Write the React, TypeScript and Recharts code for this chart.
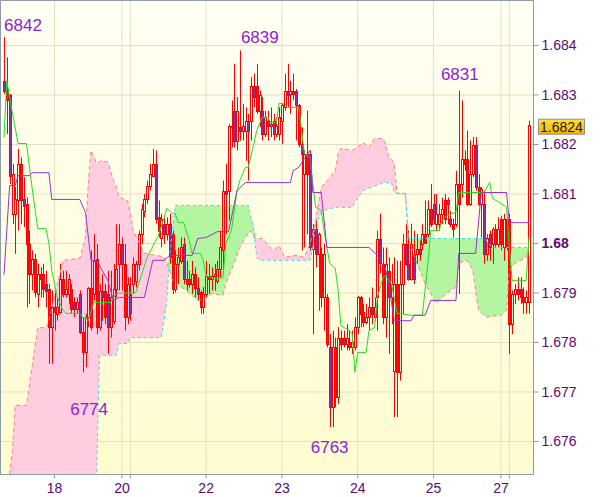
import {
  ComposedChart,
  Bar,
  Line,
  Area,
  XAxis,
  YAxis,
  CartesianGrid,
  ReferenceDot,
} from 'recharts';

// prices are in points: 6824 means 1.6824
// [open, high, low, close] per bar
const ohlcBars: [number, number, number, number][] = [
  [6832.9, 6841.7, 6830.2, 6830.9], [6831.2, 6837.6, 6822.1, 6828.9], [6829.9, 6830.2, 6812.0, 6813.7],
  [6806.0, 6816.1, 6803.9, 6814.0], [6806.0, 6811.4, 6797.9, 6809.0], [6808.7, 6819.1, 6802.6, 6816.1],
  [6816.1, 6817.4, 6803.9, 6808.7], [6809.0, 6813.4, 6803.3, 6807.6], [6808.0, 6809.3, 6787.1, 6799.9],
  [6799.9, 6802.6, 6787.8, 6793.8], [6793.8, 6798.6, 6790.5, 6796.9], [6796.9, 6797.9, 6789.1, 6790.1],
  [6789.8, 6795.9, 6787.1, 6793.8], [6793.8, 6795.2, 6789.1, 6792.8], [6793.8, 6795.9, 6789.1, 6790.8],
  [6791.8, 6794.5, 6787.1, 6790.5], [6790.8, 6791.8, 6775.7, 6783.1], [6783.1, 6790.5, 6775.7, 6787.1],
  [6787.1, 6790.5, 6782.4, 6786.1], [6785.8, 6789.1, 6784.4, 6787.1], [6786.1, 6795.9, 6785.8, 6792.8],
  [6792.8, 6794.5, 6789.1, 6789.8], [6789.8, 6794.5, 6789.1, 6790.8], [6789.8, 6793.8, 6787.8, 6792.8],
  [6790.8, 6791.8, 6785.8, 6786.8], [6788.1, 6789.1, 6785.1, 6786.8], [6786.8, 6789.1, 6785.8, 6788.1],
  [6789.8, 6790.5, 6781.7, 6782.1], [6782.1, 6785.1, 6774.0, 6778.0], [6778.0, 6785.8, 6775.0, 6785.1],
  [6785.1, 6791.2, 6783.1, 6791.1], [6791.1, 6798.6, 6782.4, 6783.1], [6789.8, 6801.9, 6788.5, 6796.5],
  [6796.9, 6799.9, 6781.7, 6783.1], [6783.1, 6791.8, 6782.4, 6790.5], [6790.5, 6793.8, 6784.4, 6789.1],
  [6790.5, 6791.8, 6783.7, 6785.1], [6789.8, 6794.5, 6777.7, 6783.1], [6783.1, 6794.5, 6781.0, 6789.1],
  [6784.4, 6795.9, 6783.7, 6790.8], [6790.8, 6803.9, 6789.1, 6794.9], [6795.9, 6803.9, 6790.5, 6799.9],
  [6799.9, 6801.2, 6790.5, 6795.9], [6795.9, 6799.9, 6782.4, 6785.1], [6785.1, 6793.2, 6783.7, 6791.8],
  [6789.8, 6793.2, 6784.4, 6786.0], [6791.8, 6797.2, 6789.8, 6795.9], [6792.5, 6796.5, 6791.1, 6795.9],
  [6795.9, 6802.6, 6794.5, 6801.9], [6801.9, 6808.0, 6799.9, 6807.0], [6806.6, 6810.0, 6805.3, 6809.0],
  [6809.0, 6812.7, 6808.0, 6811.7], [6811.7, 6816.1, 6810.7, 6814.0], [6813.7, 6819.1, 6813.4, 6816.1],
  [6816.1, 6818.8, 6804.0, 6805.0], [6805.3, 6808.7, 6801.2, 6802.6], [6801.2, 6806.0, 6799.2, 6805.0],
  [6803.9, 6805.3, 6799.9, 6801.9], [6801.9, 6805.3, 6800.6, 6803.9], [6803.9, 6806.0, 6795.9, 6797.2],
  [6801.9, 6802.6, 6789.8, 6790.8], [6790.8, 6798.6, 6790.1, 6795.9], [6795.9, 6799.2, 6791.8, 6797.2],
  [6796.5, 6801.2, 6795.9, 6799.2], [6799.9, 6801.2, 6791.8, 6792.8], [6792.8, 6796.5, 6790.5, 6791.8],
  [6792.8, 6794.5, 6791.1, 6791.8], [6791.8, 6796.5, 6789.8, 6793.8], [6793.8, 6795.2, 6789.1, 6791.1],
  [6791.1, 6793.2, 6788.5, 6789.8], [6790.1, 6790.5, 6785.8, 6787.1], [6787.1, 6791.2, 6785.8, 6789.8],
  [6789.8, 6796.5, 6789.1, 6793.5], [6793.5, 6795.9, 6789.8, 6792.8], [6792.8, 6795.2, 6790.5, 6793.5],
  [6793.5, 6795.9, 6790.5, 6793.8], [6792.5, 6796.5, 6791.8, 6794.9], [6794.9, 6802.6, 6793.2, 6799.2],
  [6798.6, 6812.7, 6794.5, 6810.7], [6810.7, 6816.1, 6801.9, 6810.0], [6810.7, 6824.1, 6804.6, 6823.8],
  [6823.8, 6828.9, 6819.4, 6823.5], [6826.8, 6836.3, 6819.4, 6820.8], [6820.8, 6829.6, 6818.8, 6826.8],
  [6823.5, 6839.0, 6820.8, 6822.8], [6822.8, 6828.2, 6820.8, 6823.8], [6822.8, 6827.5, 6816.7, 6824.8],
  [6824.8, 6826.2, 6812.7, 6822.8], [6824.8, 6833.6, 6820.8, 6831.9], [6831.9, 6834.3, 6827.5, 6829.6],
  [6831.9, 6836.3, 6826.2, 6826.8], [6826.8, 6830.9, 6823.5, 6829.9], [6826.8, 6829.6, 6820.8, 6822.1],
  [6822.1, 6826.8, 6821.5, 6825.5], [6824.8, 6826.8, 6820.8, 6823.8], [6823.8, 6827.5, 6821.5, 6824.1],
  [6824.8, 6826.2, 6820.8, 6822.1], [6822.1, 6825.5, 6821.5, 6823.8], [6822.1, 6827.5, 6820.8, 6825.5],
  [6824.8, 6828.2, 6820.1, 6827.9], [6827.5, 6834.3, 6826.8, 6830.9], [6830.9, 6836.3, 6827.5, 6830.0],
  [6830.2, 6832.9, 6826.2, 6830.9], [6830.9, 6834.3, 6828.9, 6830.2], [6830.9, 6831.2, 6820.8, 6827.9],
  [6827.9, 6828.2, 6819.4, 6820.1], [6820.1, 6823.5, 6798.6, 6818.1], [6814.0, 6818.8, 6799.2, 6818.1],
  [6818.1, 6826.8, 6801.9, 6814.0], [6818.1, 6818.8, 6798.6, 6799.2], [6798.9, 6803.9, 6781.7, 6802.9],
  [6802.9, 6804.6, 6795.2, 6797.9], [6797.9, 6802.2, 6786.4, 6801.9], [6797.9, 6799.2, 6787.1, 6789.1],
  [6789.1, 6799.9, 6782.4, 6797.9], [6789.1, 6789.8, 6779.0, 6779.7], [6779.0, 6781.7, 6762.9, 6766.9],
  [6766.9, 6782.4, 6762.9, 6779.0], [6779.0, 6781.0, 6766.9, 6768.9], [6768.9, 6783.1, 6767.6, 6781.0],
  [6781.0, 6782.4, 6778.4, 6779.7], [6781.0, 6782.4, 6779.0, 6779.7], [6779.7, 6783.7, 6778.4, 6781.0],
  [6780.0, 6782.4, 6778.4, 6779.0], [6779.0, 6782.4, 6777.7, 6780.0], [6779.0, 6785.1, 6778.4, 6783.1],
  [6783.1, 6789.4, 6781.7, 6789.1], [6789.1, 6789.4, 6783.1, 6785.8], [6786.1, 6787.8, 6783.1, 6784.1],
  [6784.1, 6787.8, 6783.7, 6785.1], [6785.1, 6789.1, 6782.4, 6787.1], [6787.1, 6791.1, 6783.7, 6785.8],
  [6785.1, 6789.1, 6784.4, 6787.1], [6789.1, 6802.6, 6782.4, 6800.9], [6800.9, 6806.0, 6794.0, 6796.0],
  [6795.9, 6799.2, 6783.7, 6785.1], [6785.1, 6799.2, 6781.0, 6795.9], [6794.5, 6797.2, 6777.7, 6789.1],
  [6789.1, 6795.9, 6783.7, 6791.8], [6774.3, 6797.2, 6764.9, 6791.8], [6791.8, 6796.5, 6764.9, 6774.0],
  [6774.0, 6796.5, 6772.3, 6791.8], [6791.8, 6801.9, 6785.8, 6799.9], [6799.9, 6804.0, 6795.5, 6795.9],
  [6795.9, 6802.6, 6792.5, 6792.8], [6792.8, 6804.0, 6792.5, 6799.9], [6797.9, 6802.6, 6791.8, 6792.8],
  [6797.9, 6801.9, 6795.9, 6798.9], [6798.9, 6800.6, 6796.5, 6797.9], [6799.9, 6803.9, 6798.6, 6801.9],
  [6801.9, 6808.7, 6799.9, 6800.0], [6801.9, 6808.7, 6801.2, 6807.0], [6807.0, 6812.0, 6803.3, 6804.0],
  [6808.0, 6810.0, 6803.9, 6805.0], [6804.0, 6810.0, 6802.6, 6806.0], [6804.0, 6808.0, 6802.6, 6806.0],
  [6806.0, 6809.3, 6803.9, 6807.0], [6808.7, 6810.0, 6803.9, 6805.0], [6808.7, 6809.3, 6803.9, 6808.0],
  [6805.0, 6806.6, 6803.3, 6804.0], [6804.0, 6805.0, 6801.2, 6803.0], [6804.0, 6814.7, 6803.3, 6812.0],
  [6812.0, 6830.9, 6789.8, 6808.0], [6812.0, 6828.9, 6809.3, 6817.1], [6817.1, 6818.8, 6814.7, 6816.1],
  [6817.1, 6822.8, 6807.6, 6808.0], [6808.0, 6820.8, 6807.6, 6814.0], [6814.0, 6821.5, 6813.4, 6819.8],
  [6819.8, 6821.5, 6810.7, 6811.4], [6811.4, 6814.0, 6807.6, 6808.0], [6808.0, 6811.4, 6801.2, 6811.0],
  [6808.0, 6810.7, 6795.9, 6797.9], [6797.9, 6801.9, 6796.5, 6801.2], [6801.9, 6802.6, 6796.5, 6799.2],
  [6799.9, 6803.3, 6795.9, 6802.9], [6802.9, 6803.9, 6799.2, 6799.9], [6799.9, 6805.3, 6799.2, 6802.9],
  [6805.0, 6805.6, 6798.6, 6799.9], [6799.2, 6806.0, 6796.5, 6805.0], [6805.0, 6805.3, 6798.6, 6799.2],
  [6805.0, 6806.0, 6777.7, 6783.7], [6783.7, 6790.5, 6781.7, 6789.8], [6789.8, 6791.8, 6787.8, 6790.8],
  [6790.8, 6793.2, 6788.5, 6789.8], [6790.8, 6793.2, 6787.8, 6789.1], [6789.1, 6791.1, 6785.8, 6788.1],
  [6788.1, 6790.5, 6785.8, 6789.1], [6788.1, 6824.8, 6785.8, 6824.0],
];

// [bar number, value] at the turning points of each line
const tenkanPts: [number, number][] = [
  [1, 6821.4], [2, 6832.9], [3, 6829.5], [6, 6820.2], [9, 6820.2], [11, 6811.3], [13, 6803.0],
  [16, 6803.0], [17, 6800.0], [18, 6794.6], [20, 6789.1], [22, 6786.5], [23, 6785.9], [28, 6785.9],
  [29, 6785.1], [31, 6784.4], [33, 6788.1], [39, 6788.1], [41, 6789.9], [48, 6790.1], [52, 6797.2],
  [56, 6801.6], [58, 6805.1], [59, 6807.1], [61, 6806.1], [62, 6806.1], [63, 6804.2], [65, 6804.2],
  [67, 6800.6], [68, 6798.0], [71, 6798.0], [72, 6796.6], [73, 6793.5], [75, 6793.1], [77, 6792.9],
  [79, 6793.1], [80, 6800.0], [82, 6802.6], [84, 6810.7], [85, 6812.7], [87, 6815.4], [88, 6815.4],
  [90, 6820.2], [91, 6822.8], [93, 6825.5], [95, 6825.5], [96, 6824.4], [98, 6824.4], [99, 6828.3],
  [101, 6828.3], [102, 6827.5], [106, 6827.5], [107, 6822.8], [108, 6818.2], [110, 6817.4],
  [111, 6812.1], [112, 6807.3], [114, 6806.7], [115, 6802.6], [117, 6796.0], [119, 6795.0],
  [120, 6790.5], [121, 6783.4], [124, 6782.4], [125, 6781.8], [126, 6774.0], [127, 6778.0],
  [130, 6778.0], [131, 6782.4], [133, 6783.0], [134, 6789.1], [136, 6793.1], [137, 6793.5],
  [139, 6791.9], [141, 6785.9], [146, 6785.5], [150, 6785.5], [152, 6796.0], [153, 6802.6],
  [156, 6802.6], [157, 6804.7], [159, 6805.7], [162, 6806.3], [163, 6810.3], [172, 6810.3],
  [174, 6812.3], [175, 6809.1], [178, 6808.1], [180, 6807.3], [181, 6799.2], [182, 6792.5],
  [187, 6792.5], [188, 6801.2],
];

const kijunPts: [number, number][] = [
  [1, 6793.7], [3, 6811.7], [5, 6811.7], [6, 6813.7], [10, 6813.7], [11, 6814.3], [17, 6814.3],
  [18, 6808.9], [28, 6808.9], [30, 6806.3], [32, 6796.6], [34, 6796.6], [38, 6792.5], [40, 6788.5],
  [42, 6789.1], [51, 6789.1], [54, 6796.6], [58, 6796.6], [60, 6797.6], [68, 6797.6], [70, 6801.0],
  [73, 6801.2], [77, 6802.4], [81, 6802.4], [84, 6810.7], [87, 6812.3], [103, 6812.3], [104, 6814.7],
  [106, 6815.4], [108, 6817.2], [110, 6818.8], [111, 6810.3], [114, 6810.3], [116, 6799.2],
  [131, 6799.2], [134, 6797.6], [137, 6794.6], [138, 6791.9], [140, 6784.4], [146, 6784.4],
  [147, 6785.5], [151, 6785.5], [153, 6788.5], [162, 6788.5], [163, 6798.0], [169, 6798.0],
  [171, 6810.3], [180, 6810.3], [181, 6804.2], [188, 6804.2],
];

// [bar number, span A, span B]
const cloudPts: [number, number, number][] = [
  [1, 6745, 6740], [3, 6753.5, 6740], [4, 6758, 6740], [5, 6767.3, 6740], [9, 6767.3, 6740],
  [13, 6783.0, 6740], [16, 6783.0, 6740], [17, 6784.4, 6740], [22, 6796.6, 6740], [28, 6797.0, 6740],
  [30, 6801.2, 6740], [31, 6812.1, 6740], [32, 6818.8, 6740], [33, 6817.5, 6745], [34, 6816.2, 6753.3],
  [35, 6816.5, 6777.4], [36, 6816.8, 6777.4], [38, 6816.4, 6777.4], [40, 6812.7, 6777.4],
  [41, 6811.5, 6777.4], [42, 6809.3, 6779.8], [45, 6808.7, 6779.8], [46, 6806.0, 6781.0],
  [47, 6802.6, 6781.0], [51, 6798.0, 6781.0], [57, 6797.4, 6781.0], [58, 6797.2, 6784.5],
  [59, 6796.0, 6788.5], [60, 6794.5, 6797.2], [61, 6792.5, 6802.6], [62, 6792.0, 6807.7],
  [66, 6790.5, 6807.7], [70, 6788.5, 6807.7], [73, 6789.1, 6807.7], [75, 6789.9, 6807.7],
  [79, 6789.5, 6807.7], [80, 6791.9, 6807.7], [83, 6796.0, 6807.7], [85, 6799.2, 6807.7],
  [87, 6801.2, 6807.7], [88, 6802.0, 6807.7], [89, 6802.6, 6805.3], [90, 6801.2, 6802.6],
  [91, 6801.0, 6797.2], [92, 6801.0, 6796.6], [93, 6801.0, 6796.6], [97, 6798.6, 6796.6],
  [99, 6799.6, 6796.6], [101, 6797.2, 6796.6], [105, 6797.6, 6796.6], [108, 6797.2, 6796.6],
  [110, 6800.0, 6796.6], [111, 6802.0, 6799.2], [112, 6804.7, 6804.0], [114, 6811.3, 6806.0],
  [115, 6812.0, 6806.7], [117, 6813.3, 6807.0], [119, 6814.7, 6807.3], [120, 6818.2, 6807.3],
  [121, 6819.2, 6807.3], [125, 6818.8, 6807.3], [127, 6819.5, 6809.3], [129, 6820.4, 6810.7],
  [131, 6819.4, 6811.2], [133, 6821.2, 6811.6], [136, 6821.2, 6812.2], [137, 6820.0, 6812.3],
  [138, 6817.4, 6812.3], [139, 6817.0, 6812.3], [140, 6816.2, 6810.3], [141, 6810.1, 6810.2],
  [144, 6810.0, 6810.1], [145, 6801.2, 6801.0], [148, 6796.0, 6801.0], [151, 6791.9, 6801.0],
  [153, 6789.9, 6801.0], [155, 6787.9, 6801.0], [157, 6789.1, 6801.0], [160, 6790.5, 6801.0],
  [162, 6791.1, 6801.0], [163, 6796.0, 6801.0], [166, 6796.6, 6801.0], [168, 6794.6, 6801.0],
  [169, 6790.5, 6801.0], [170, 6786.5, 6801.0], [172, 6785.5, 6801.0], [173, 6785.1, 6800.5],
  [175, 6785.3, 6799.2], [178, 6785.5, 6799.2], [180, 6786.5, 6799.2], [181, 6794.6, 6799.2],
  [183, 6796.0, 6799.2], [187, 6797.2, 6799.2], [188, 6799.2, 6799.2],
];

const dayTicks = [19, 43, 46, 73, 100, 127, 154, 178, 181];
const dayLabels = ['18', '20', '', '22', '23', '24', '25', '27', ''];
const priceTicks = [6760, 6770, 6780, 6790, 6800, 6810, 6820, 6830, 6840];

// [bar number, price] of the marked highs and lows
const extremes: [number, number][] = [
  [1, 6841.7],
  [85, 6839.0],
  [163, 6830.9],
  [29, 6774.0],
  [117, 6762.9],
];
const extremeShift: [number, number][] = [[19, -6.5], [20, -7], [1, -11], [6.5, 43], [0, 26]];
const lastPrice = 6824;

const AXIS = '#8e9ba8';
const TEXT = '#5e0a6e';
const FONT = 'Liberation Sans, Arial, sans-serif';

const tenkanMap = new Map(tenkanPts);
const kijunMap = new Map(kijunPts);
const cloudMap = new Map(cloudPts.map(([k, a, b]) => [k, [a, b]] as [number, number[]]));
const dayLabelMap = new Map(dayTicks.map((k, i) => [k, dayLabels[i]] as [number, string]));

const data = ohlcBars.map(([o, h, l, c], i) => {
  const k = i + 1;
  const cl = cloudMap.get(k);
  return {
    k,
    o,
    h,
    l,
    c,
    range: [l, h],
    tenkan: tenkanMap.get(k) ?? null,
    kijun: kijunMap.get(k) ?? null,
    spanA: cl ? cl[0] : null,
    spanB: cl ? cl[1] : null,
    pink: cl ? [cl[1], Math.max(cl[0], cl[1])] : null,
    green: cl ? [cl[0], Math.max(cl[0], cl[1])] : null,
  };
});

function Candle(props: any) {
  const { x, y, width, height, payload } = props;
  if (height == null || payload == null) return null;
  const { o, h, l, c } = payload;
  const ppu = h === l ? 0 : height / (h - l);
  const cx = Math.round(x + width / 2);
  const yOf = (v: number) => y + (h - v) * ppu;
  const top = Math.round(yOf(Math.max(o, c)));
  const bot = Math.max(Math.round(yOf(Math.min(o, c))), top + 1);
  const bear = c < o;
  return (
    <g>
      <line x1={cx + 0.5} x2={cx + 0.5} y1={y} y2={top} stroke="#ff0000" />
      <line x1={cx + 0.5} x2={cx + 0.5} y1={bot} y2={y + height} stroke="#ff0000" />
      <rect
        x={cx - 0.5}
        y={top + 0.5}
        width={2}
        height={bot - top}
        fill={bear ? '#8833aa' : 'none'}
        stroke="#ff0000"
      />
    </g>
  );
}

function PriceTick(props: any) {
  const { x, y, payload } = props;
  const v = payload.value;
  const bold = v === 6800;
  return (
    <text x={x} y={y + 5} fill={TEXT} fontSize={14} fontFamily={FONT} fontWeight={bold ? 'bold' : 'normal'}>
      {bold ? '1.68' : (1 + v / 10000).toFixed(3)}
    </text>
  );
}

function DayTick(props: any) {
  const { x, y, payload } = props;
  const label = dayLabelMap.get(payload.value) ?? '';
  if (!label) return null;
  return (
    <text x={x} y={y + 12} textAnchor="middle" fill={TEXT} fontSize={14} fontFamily={FONT}>
      {label}
    </text>
  );
}

export default function App() {
  return (
    <div style={{ position: 'absolute', left: 0, top: 0, width: 600, height: 497, background: '#fff' }}>
      <ComposedChart
        width={600}
        height={497}
        data={data}
        margin={{ top: 0, right: 0, bottom: 0, left: 0 }}
        barCategoryGap={0}
      >
        <defs>
          <linearGradient id="bg" x1="0" y1="0" x2="0" y2="1">
            <stop offset="0%" stopColor="#fffff4" />
            <stop offset="100%" stopColor="#fffcd0" />
          </linearGradient>
          <linearGradient id="gold" x1="0" y1="0" x2="0" y2="1">
            <stop offset="0%" stopColor="#ffe040" />
            <stop offset="100%" stopColor="#f0b400" />
          </linearGradient>
        </defs>
        <CartesianGrid stroke="#e2e0c4" fill="url(#bg)" fillOpacity={1} />
        <XAxis
          dataKey="k"
          ticks={dayTicks}
          interval={0}
          height={22.5}
          padding={{ left: 2.1, right: 3.1 }}
          tickSize={4}
          tickLine={{ stroke: AXIS }}
          axisLine={{ stroke: AXIS }}
          tick={<DayTick />}
        />
        <XAxis xAxisId="t" dataKey="k" orientation="top" height={0.5} tick={false} tickLine={false} axisLine={{ stroke: AXIS }} />
        <YAxis
          orientation="right"
          type="number"
          width={66.5}
          domain={[6753.33, 6849.09]}
          allowDataOverflow
          ticks={priceTicks}
          interval={0}
          tickSize={5}
          tickMargin={3}
          tickLine={{ stroke: AXIS }}
          axisLine={{ stroke: AXIS }}
          tick={<PriceTick />}
        />
        <YAxis yAxisId="l" orientation="left" width={0.5} domain={[0, 1]} tick={false} tickLine={false} axisLine={{ stroke: AXIS }} />
        <Area dataKey="pink" stroke="none" fill="#ffcce0" fillOpacity={1} connectNulls isAnimationActive={false} />
        <Area dataKey="green" stroke="none" fill="#b4f5a2" fillOpacity={1} connectNulls isAnimationActive={false} />
        <Line dataKey="spanA" stroke="#ff8080" strokeWidth={1} strokeDasharray="4 3" dot={false} connectNulls isAnimationActive={false} />
        <Line dataKey="spanB" stroke="#30e0e8" strokeWidth={1} strokeDasharray="3 3" dot={false} connectNulls isAnimationActive={false} />
        <Bar dataKey="range" shape={(p: any) => <Candle {...p} />} isAnimationActive={false} />
        <Line dataKey="tenkan" stroke="#22dd22" strokeWidth={1} dot={false} connectNulls isAnimationActive={false} />
        <Line dataKey="kijun" stroke="#9933cc" strokeWidth={1} dot={false} connectNulls isAnimationActive={false} />
        {extremes.map(([k, v], i) => (
          <ReferenceDot
            key={k}
            x={k}
            y={v}
            r={0}
            ifOverflow="visible"
            label={(p: any) => (
              <text
                x={p.viewBox.x + extremeShift[i][0]}
                y={p.viewBox.y + extremeShift[i][1]}
                textAnchor="middle"
                fill="#8b23d6"
                fontSize={17}
                fontFamily={FONT}
              >
                {Math.round(v)}
              </text>
            )}
          />
        ))}
        <ReferenceDot
          x={ohlcBars.length}
          y={lastPrice}
          r={0}
          ifOverflow="visible"
          label={(p: any) => (
            <g>
              <rect x={p.viewBox.x + 9.5} y={p.viewBox.y - 5.5} width={46} height={15} fill="url(#gold)" stroke="#8e8e8e" />
              <text
                x={p.viewBox.x + 32.5}
                y={p.viewBox.y + 7}
                textAnchor="middle"
                fill="#2a1a00"
                fontSize={14}
                fontFamily={FONT}
              >
                {(1 + lastPrice / 10000).toFixed(4)}
              </text>
            </g>
          )}
        />
      </ComposedChart>
    </div>
  );
}
